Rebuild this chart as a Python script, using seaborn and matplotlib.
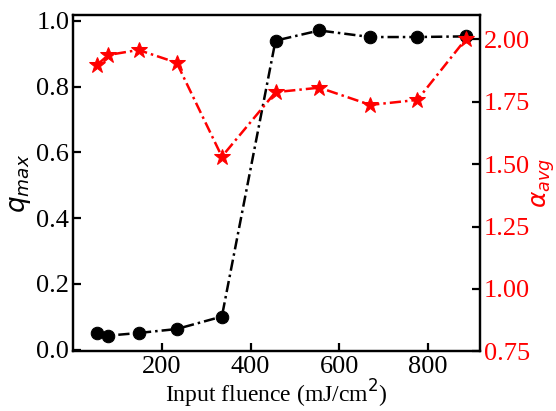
import matplotlib
matplotlib.use("Agg")
import matplotlib.pyplot as plt
import seaborn as sns
import pandas as pd

fluence = [53, 79, 147, 233, 335, 456, 555, 670, 776, 885]
q_max = [0.051, 0.043, 0.051, 0.063, 0.101, 0.940, 0.971, 0.951, 0.951, 0.953]
alpha_avg = [1.897, 1.937, 1.957, 1.906, 1.530, 1.788, 1.806, 1.737, 1.757, 2.000]

sns.set_style("ticks")
plt.rcParams["font.family"] = ["Liberation Serif", "DejaVu Serif"]
plt.rcParams["mathtext.fontset"] = "dejavusans"
plt.rcParams["axes.edgecolor"] = "black"
plt.rcParams["xtick.color"] = "black"
plt.rcParams["ytick.color"] = "black"
plt.rcParams["text.color"] = "black"
plt.rcParams["axes.labelcolor"] = "black"

df = pd.DataFrame({"fluence": fluence, "q": q_max, "a": alpha_avg})

fig = plt.figure(figsize=(5.56, 4.11), dpi=100)
ax = fig.add_axes([0.132, 0.145, 0.731, 0.8185])
ax2 = ax.twinx()

sns.lineplot(data=df, x="fluence", y="q", ax=ax, color="black",
             marker="o", markersize=9, markeredgecolor="black", linewidth=1.8,
             dashes=False)
sns.lineplot(data=df, x="fluence", y="a", ax=ax2, color="red",
             marker="*", markersize=12, markeredgecolor="red", linewidth=1.8,
             dashes=False)
for a in (ax, ax2):
    for ln in a.get_lines():
        ln.set_dashes((4.5, 1.6, 1, 1.6))

ax.set_xlim(0, 917)
ax.set_ylim(-0.005, 1.018)
ax2.set_ylim(0.75, 2.097)
ax.set_xticks([200, 400, 600, 800])
ax.set_yticks([0.0, 0.2, 0.4, 0.6, 0.8, 1.0])
ax2.set_yticks([0.75, 1.00, 1.25, 1.50, 1.75, 2.00])
ax.set_yticklabels(["0.0", "0.2", "0.4", "0.6", "0.8", "1.0"])
ax2.set_yticklabels(["0.75", "1.00", "1.25", "1.50", "1.75", "2.00"])

ax.set_xlabel("Input fluence (mJ/cm$^2$)", fontsize=17, labelpad=0)
ax.set_ylabel("$q_{max}$", fontsize=19, labelpad=2)
ax2.set_ylabel(r"$\alpha_{avg}$", fontsize=18, color="red", labelpad=0)

for a in (ax, ax2):
    for s in a.spines.values():
        s.set_linewidth(1.6)
        s.set_color("black")
        s.set_visible(True)
    a.tick_params(direction="in", length=6, width=1.6, labelsize=19,
                  colors="black", pad=3)
ax.tick_params(axis="y", which="both", right=False)
for t in ax2.get_yticklabels():
    t.set_color("red")

fig.savefig("out.png", dpi=100)
